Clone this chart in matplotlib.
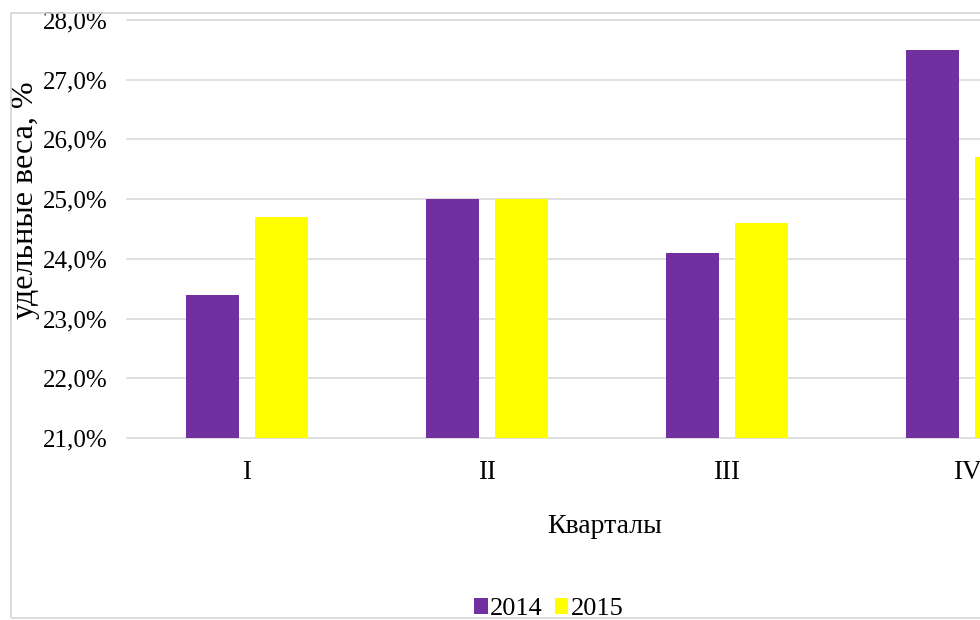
import matplotlib
matplotlib.use("Agg")
import matplotlib.pyplot as plt
from matplotlib.patches import Rectangle, Patch
from matplotlib.ticker import FuncFormatter, MultipleLocator
import numpy as np

quarters = ["I", "II", "III", "IV"]
years = ["2014", "2015"]
v2014 = [23.4, 25.0, 24.1, 27.5]
v2015 = [24.7, 25.0, 24.6, 25.7]
colors = ["#7030A0", "#FFFF00"]

plt.rcParams["font.family"] = ["Liberation Serif", "DejaVu Serif"]

W, H = 980, 620
fig = plt.figure(figsize=(W / 100, H / 100), dpi=100)
fig.patch.set_facecolor("white")

# chart frame
fig.patches.append(Rectangle((10.5 / W, 1 - 617.5 / H), 2.0, (617.5 - 12.5) / H,
                             transform=fig.transFigure, fill=False,
                             edgecolor="#d4d4d4", linewidth=1.2, zorder=0))

ax = fig.add_axes([127 / W, 1 - 438 / H, 960 / W, 418 / H])
x = np.arange(len(quarters))
bw = 0.221
off = 0.144
ax.bar(x - off, v2014, width=bw, color=colors[0], label=years[0], zorder=3)
ax.bar(x + off, v2015, width=bw, color=colors[1], label=years[1], zorder=3)

ax.set_xlim(-0.5, 3.5)
ax.set_ylim(21, 28)
ax.yaxis.set_major_locator(MultipleLocator(1))
ax.yaxis.set_major_formatter(FuncFormatter(lambda v, p: f"{v:.1f}%".replace(".", ",")))
ax.set_xticks(x)
ax.set_xticklabels(quarters)
ax.tick_params(axis="both", length=0)
ax.tick_params(axis="y", labelsize=18, pad=14)
ax.tick_params(axis="x", labelsize=19.5, pad=16)
for s in ax.spines.values():
    s.set_visible(False)
ax.grid(axis="y", color="#d9d9d9", linewidth=1.2, zorder=0)
ax.set_axisbelow(True)
for gl in ax.get_ygridlines():
    gl.set_clip_on(False)

ax.set_xlabel("Кварталы", fontsize=20)
ax.xaxis.label.set_va("baseline")
ax.xaxis.set_label_coords(0.498, (438 - 533) / 418)

ax.set_ylabel("удельные веса, %", fontsize=23)
ax.yaxis.label.set_va("center")
ax.yaxis.set_label_coords((25 - 127) / 960, (438 - 200) / 418)

handles = [Patch(facecolor=c, edgecolor="none") for c in colors]
fig.legend(handles, years, loc="center", bbox_to_anchor=(549 / W, 1 - 609 / H),
           ncol=2, frameon=False, fontsize=19, handlelength=0.5, handleheight=0.6,
           handletextpad=0.1, columnspacing=0.45, borderpad=0, borderaxespad=0)

fig.savefig("out.png", dpi=100, facecolor="white")
